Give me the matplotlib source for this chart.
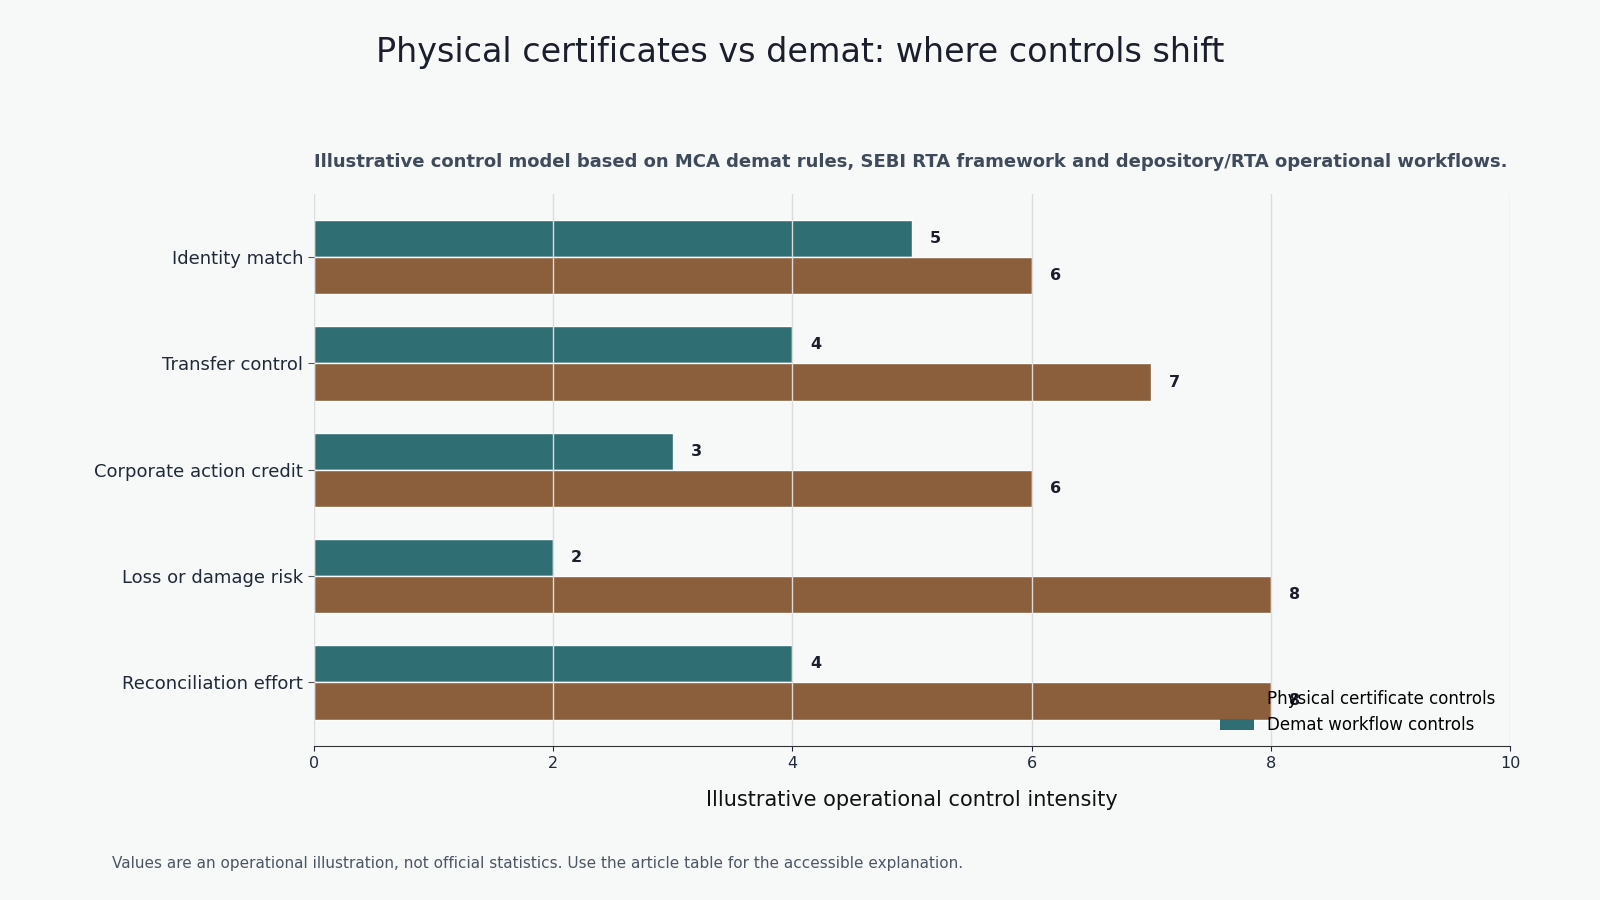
import matplotlib.pyplot as plt
from matplotlib.patches import Patch
import numpy as np

categories = ["Identity match", "Transfer control", "Corporate action credit",
              "Loss or damage risk", "Reconciliation effort"]
physical = [6, 7, 6, 8, 8]
demat = [5, 4, 3, 2, 4]

bg = "#f7f9f9"
teal = "#2f6e73"
brown = "#8b5e3c"

fig = plt.figure(figsize=(16, 9), dpi=100, facecolor=bg)
ax = fig.add_axes([0.196, 0.171, 0.748, 0.613], facecolor=bg)

y = np.arange(len(categories))
h = 0.35
ax.barh(y - h / 2, demat, height=h, color=teal, edgecolor="white", linewidth=1)
ax.barh(y + h / 2, physical, height=h, color=brown, edgecolor="white", linewidth=1)

for yi, v in zip(y, demat):
    ax.text(v + 0.15, yi - h / 2, str(v), va="center", ha="left", fontsize=11.5,
            fontweight="bold", color="#1a1f2b")
for yi, v in zip(y, physical):
    ax.text(v + 0.15, yi + h / 2, str(v), va="center", ha="left", fontsize=11.5,
            fontweight="bold", color="#1a1f2b")

ax.set_yticks(y)
ax.set_yticklabels(categories, fontsize=13, color="#1f2937")
ax.set_ylim(4.6, -0.59)
ax.set_xlim(0, 10)
ax.set_xticks([0, 2, 4, 6, 8, 10])
ax.tick_params(axis="x", labelsize=11.5, colors="#1f2937")
ax.tick_params(axis="y", length=4, color="#555555")
ax.grid(axis="x", color="#dcdcdc", linewidth=1)
ax.set_axisbelow(False)
for s in ["top", "right", "left"]:
    ax.spines[s].set_visible(False)
ax.spines["bottom"].set_color("#333333")

ax.set_xlabel("Illustrative operational control intensity", fontsize=15, labelpad=14,
              color="#111111")

ax.set_title("Illustrative control model based on MCA demat rules, SEBI RTA framework and "
             "depository/RTA operational workflows.", loc="left", fontsize=13,
             fontweight="bold", color="#3f4a5a", pad=20)

fig.suptitle("Physical certificates vs demat: where controls shift", fontsize=24,
             color="#1a1f2b", y=0.96)

handles = [Patch(facecolor=brown, label="Physical certificate controls"),
           Patch(facecolor=teal, label="Demat workflow controls")]
ax.legend(handles=handles, loc="lower right", frameon=False, fontsize=12,
          bbox_to_anchor=(1.0, -0.006))

fig.text(0.07, 0.036, "Values are an operational illustration, not official statistics. "
         "Use the article table for the accessible explanation.", fontsize=11,
         color="#4b5563")

fig.savefig("out.png", dpi=100, facecolor=bg)
